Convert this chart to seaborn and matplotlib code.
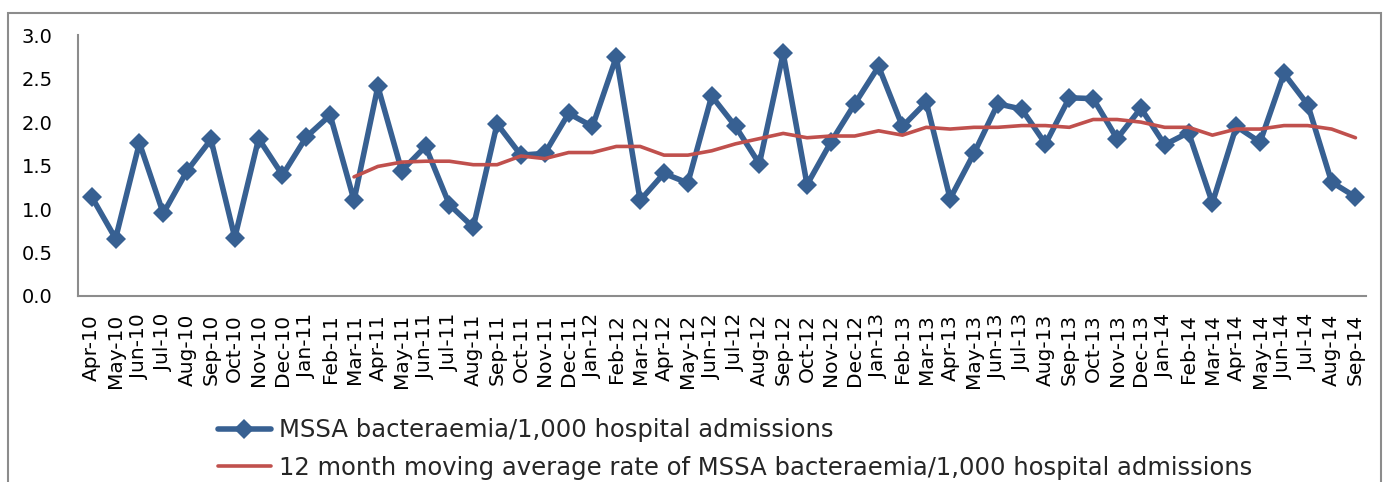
import pandas as pd
import matplotlib.pyplot as plt
import seaborn as sns
from matplotlib.patches import Rectangle
from matplotlib.lines import Line2D

months = ['Apr-10', 'May-10', 'Jun-10', 'Jul-10', 'Aug-10', 'Sep-10', 'Oct-10', 'Nov-10', 'Dec-10',
          'Jan-11', 'Feb-11', 'Mar-11', 'Apr-11', 'May-11', 'Jun-11', 'Jul-11', 'Aug-11', 'Sep-11',
          'Oct-11', 'Nov-11', 'Dec-11', 'Jan-12', 'Feb-12', 'Mar-12', 'Apr-12', 'May-12', 'Jun-12',
          'Jul-12', 'Aug-12', 'Sep-12', 'Oct-12', 'Nov-12', 'Dec-12', 'Jan-13', 'Feb-13', 'Mar-13',
          'Apr-13', 'May-13', 'Jun-13', 'Jul-13', 'Aug-13', 'Sep-13', 'Oct-13', 'Nov-13', 'Dec-13',
          'Jan-14', 'Feb-14', 'Mar-14', 'Apr-14', 'May-14', 'Jun-14', 'Jul-14', 'Aug-14', 'Sep-14']

# MSSA bacteraemia per 1,000 admissions
rate = [1.14, 0.66, 1.76, 0.95, 1.44, 1.80, 0.67, 1.81, 1.39, 1.83, 2.08, 1.10,
        2.41, 1.44, 1.72, 1.05, 0.79, 1.98, 1.62, 1.64, 2.10, 1.95, 2.75, 1.10,
        1.41, 1.30, 2.30, 1.95, 1.52, 2.79, 1.28, 1.77, 2.21, 2.64, 1.95, 2.23,
        1.12, 1.64, 2.21, 2.15, 1.75, 2.28, 2.27, 1.81, 2.16, 1.74, 1.88, 1.07,
        1.95, 1.77, 2.56, 2.20, 1.31, 1.14]

# 12 month moving average, starts at Mar-11
ma_start = 11
moving_avg = [1.37, 1.49, 1.54, 1.55, 1.55, 1.51, 1.51, 1.61, 1.58, 1.65, 1.65, 1.72, 1.72,
              1.62, 1.62, 1.67, 1.75, 1.81, 1.87, 1.82, 1.84, 1.84, 1.90, 1.85, 1.94,
              1.92, 1.94, 1.94, 1.96, 1.96, 1.94, 2.03, 2.03, 2.00, 1.94, 1.94, 1.85,
              1.92, 1.92, 1.96, 1.96, 1.92, 1.82]

label1 = 'MSSA bacteraemia/1,000 hospital admissions'
label2 = '12 month moving average rate of MSSA bacteraemia/1,000 hospital admissions'

df = pd.DataFrame({'pos': range(len(months)), 'month': months, 'rate': rate})
ma_df = pd.DataFrame({'pos': range(ma_start, ma_start + len(moving_avg)), 'ma': moving_avg})

sns.set_style('white')
plt.rcParams['font.family'] = ['DejaVu Sans']

blue = '#376092'
red = '#C0504D'

fig = plt.figure(figsize=(13.87, 4.82), dpi=100)
ax = fig.add_axes([0.056, 0.386, 0.929, 0.541])

sns.lineplot(data=df, x='pos', y='rate', ax=ax, color=blue, linewidth=4,
             marker='D', markersize=10, markeredgewidth=0, legend=False)
sns.lineplot(data=ma_df, x='pos', y='ma', ax=ax, color=red, linewidth=2.6, legend=False)

ax.set_ylim(0, 3.0)
ax.set_yticks([0, 0.5, 1.0, 1.5, 2.0, 2.5, 3.0])
ax.set_yticklabels([f'{v:.1f}' for v in [0, 0.5, 1.0, 1.5, 2.0, 2.5, 3.0]], fontsize=14)
ax.set_xlim(-0.59, len(months) - 1 + 0.45)
ax.set_xticks(df['pos'])
ax.set_xticklabels(months, rotation=90, fontsize=14.5)
ax.tick_params(axis='both', length=0, colors='black')
ax.tick_params(axis='y', pad=18)
ax.tick_params(axis='x', pad=13)
ax.set_xlabel('')
ax.set_ylabel('')

for s in ['top', 'right']:
    ax.spines[s].set_visible(False)
for s in ['left', 'bottom']:
    ax.spines[s].set_color('#8c8c8c')
    ax.spines[s].set_linewidth(1.5)

handles = [Line2D([], [], color=blue, linewidth=4, marker='D', markersize=10, markeredgewidth=0),
           Line2D([], [], color=red, linewidth=2.6)]
fig.legend(handles, [label1, label2], loc='upper left', bbox_to_anchor=(0.157, 0.132),
           frameon=False, fontsize=17.5, handlelength=2.2, handletextpad=0.3,
           labelspacing=0.55, borderpad=0, borderaxespad=0)

fig.add_artist(Rectangle((8 / 1387, -0.05), (1381 - 8) / 1387, 1.05 - 13 / 482,
                         transform=fig.transFigure, fill=False, edgecolor='#8c8c8c', linewidth=1.5))

plt.savefig('out.png', dpi=100)
